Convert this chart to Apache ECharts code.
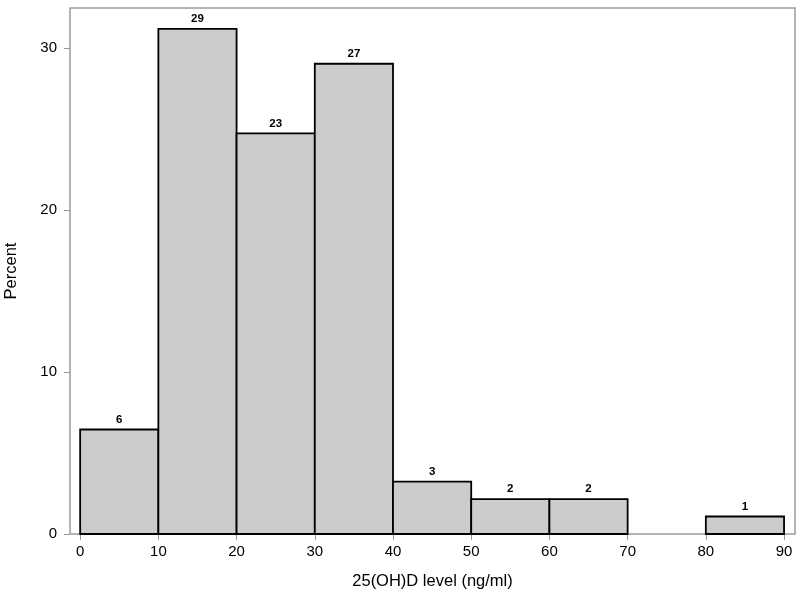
<!DOCTYPE html>
<html>
<head>
    <meta charset="utf-8">
    <title>25(OH)D histogram</title>
    <script src="https://cdn.jsdelivr.net/npm/echarts@6/dist/echarts.min.js"></script>
    <style>
        html, body { margin: 0; padding: 0; background: #fff; }
        #main { width: 800px; height: 598px; }
    </style>
</head>
<body>
    <div id="main"></div>
    <script>
        // bins (ng/ml), percent of patients, counts shown above bars
        var binStart = [0, 10, 20, 30, 40, 50, 60, 70, 80];
        var binEnd   = [10, 20, 30, 40, 50, 60, 70, 80, 90];
        var percent  = [6.45, 31.18, 24.73, 29.03, 3.23, 2.15, 2.15, 0, 1.08];
        var counts   = [6, 29, 23, 27, 3, 2, 2, 0, 1];
        var xTicks   = [0, 10, 20, 30, 40, 50, 60, 70, 80, 90];
        var yTicks   = [0, 10, 20, 30];

        var data = [];
        for (var i = 0; i < binStart.length; i++) {
            if (counts[i] > 0) data.push([binStart[i], binEnd[i], percent[i], counts[i]]);
        }

        var myChart = echarts.init(document.getElementById('main'));
        var labelText = { color: '#000', fontSize: 15, fontFamily: 'Liberation Sans, Arial' };
        var titleText = { color: '#000', fontSize: 16.5, fontFamily: 'Liberation Sans, Arial' };
        var option = {
            animation: false,
            grid: {
                left: 70, right: 5, top: 8, bottom: 64,
                outerBoundsMode: 'none', containLabel: false,
                show: true, borderColor: '#9a9a9a', borderWidth: 1.5
            },
            xAxis: {
                type: 'value', min: -1.3, max: 91.4,
                name: '25(OH)D level (ng/ml)', nameLocation: 'middle', nameGap: 39,
                nameTextStyle: titleText,
                axisLine: { show: false, onZero: false },
                splitLine: { show: false },
                axisTick: { show: true, inside: false, length: 6, customValues: xTicks, lineStyle: { color: '#999', width: 1 } },
                axisLabel: Object.assign({ customValues: xTicks, margin: 10 }, labelText)
            },
            yAxis: {
                type: 'value', min: 0, max: 32.47,
                name: 'Percent', nameLocation: 'middle', nameGap: 50,
                nameTextStyle: titleText,
                axisLine: { show: false, onZero: false },
                splitLine: { show: false },
                axisTick: { show: true, inside: false, length: 6, customValues: yTicks, lineStyle: { color: '#999', width: 1 } },
                axisLabel: Object.assign({ customValues: yTicks, margin: 13 }, labelText)
            },
            series: [{
                type: 'custom',
                data: data,
                renderItem: function (params, api) {
                    var p0 = api.coord([api.value(0), 0]);
                    var p1 = api.coord([api.value(1), api.value(2)]);
                    var mid = api.coord([(api.value(0) + api.value(1)) / 2, api.value(2)]);
                    return {
                        type: 'group',
                        children: [{
                            type: 'rect',
                            shape: { x: p0[0], y: p1[1], width: p1[0] - p0[0], height: p0[1] - p1[1] },
                            style: { fill: '#cccccc', stroke: '#000', lineWidth: 1.8 }
                        }, {
                            type: 'text',
                            x: mid[0], y: mid[1] - 4,
                            style: {
                                text: String(api.value(3)), fill: '#000',
                                font: 'bold 11.5px Liberation Sans, Arial',
                                align: 'center', verticalAlign: 'bottom'
                            }
                        }]
                    };
                }
            }]
        };
        myChart.setOption(option);
    </script>
</body>
</html>
